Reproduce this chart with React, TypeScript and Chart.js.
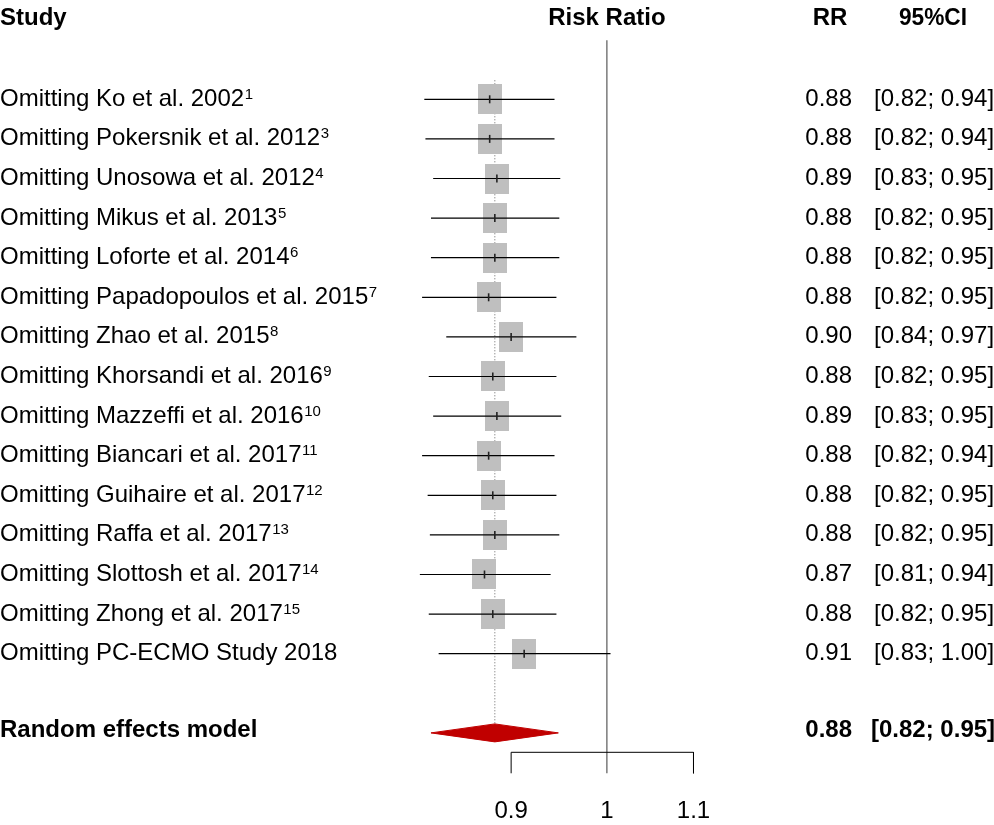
import React, { useEffect, useRef } from 'react';
import { Chart, registerables } from 'chart.js';

Chart.register(...registerables);

// ---------------- data ----------------
const studyLabels = [
  'Omitting Ko et al. 2002',
  'Omitting Pokersnik et al. 2012',
  'Omitting Unosowa et al. 2012',
  'Omitting Mikus et al. 2013',
  'Omitting Loforte et al. 2014',
  'Omitting Papadopoulos et al. 2015',
  'Omitting Zhao et al. 2015',
  'Omitting Khorsandi et al. 2016',
  'Omitting Mazzeffi et al. 2016',
  'Omitting Biancari et al. 2017',
  'Omitting Guihaire et al. 2017',
  'Omitting Raffa et al. 2017',
  'Omitting Slottosh et al. 2017',
  'Omitting Zhong et al. 2017',
  'Omitting PC-ECMO Study 2018',
];
const studyRefs = ['1', '3', '4', '5', '6', '7', '8', '9', '10', '11', '12', '13', '14', '15', ''];
const rrValues = [0.879, 0.879, 0.886, 0.884, 0.884, 0.878, 0.9, 0.882, 0.886, 0.878, 0.882, 0.884, 0.874, 0.882, 0.913];
const ciLower = [0.818, 0.819, 0.826, 0.824, 0.824, 0.816, 0.838, 0.822, 0.826, 0.816, 0.821, 0.823, 0.814, 0.822, 0.831];
const ciUpper = [0.944, 0.944, 0.95, 0.949, 0.949, 0.946, 0.967, 0.946, 0.951, 0.944, 0.946, 0.949, 0.94, 0.946, 1.004];

const pooledLabel = 'Random effects model';
const pooledRR = 0.884;
const pooledLower = 0.824;
const pooledUpper = 0.948;

const axisTicks = [0.9, 1, 1.1];
const headerLabels = ['Study', 'Risk Ratio', 'RR', '95%CI'];

// ---------------- layout / style constants ----------------
const W = 994;
const H = 825;
const FONT = '"Liberation Sans", Arial, Helvetica, sans-serif';

const pooledRow = studyLabels.length + 1;
const refTop = -1.49;
const dottedTop = -0.48;
const axisRow = 16.49;
const tickBottom = 17.02;
const diamondHalf = 0.227;

function segments(pairs: [number, number][][]) {
  const out: { x: number; y: number }[] = [];
  pairs.forEach((seg, i) => {
    if (i > 0) out.push({ x: NaN, y: NaN });
    seg.forEach(([x, y]) => out.push({ x, y }));
  });
  return out;
}

function makeBox() {
  const c = document.createElement('canvas');
  c.width = 24;
  c.height = 30;
  const g = c.getContext('2d')!;
  g.fillStyle = 'rgb(191,191,191)';
  g.fillRect(0, 0, 24, 30);
  return c;
}

const textPlugin = {
  id: 'forestText',
  afterDraw(chart: any) {
    const ctx = chart.ctx as CanvasRenderingContext2D;
    const xs = chart.scales.x;
    const ys = chart.scales.y;
    ctx.save();
    ctx.fillStyle = '#000';

    // headers
    ctx.font = `bold 24px ${FONT}`;
    ctx.textAlign = 'left';
    ctx.fillText(headerLabels[0], 0, 25);
    ctx.textAlign = 'center';
    ctx.fillText(headerLabels[1], xs.getPixelForValue(1), 25);
    ctx.fillText(headerLabels[2], 830, 25);
    ctx.fillText(headerLabels[3], 933, 25, 68);

    // study rows
    studyLabels.forEach((lab, i) => {
      const y = ys.getPixelForValue(i) + 6.5;
      ctx.font = `24px ${FONT}`;
      ctx.textAlign = 'left';
      ctx.fillText(lab, 0, y);
      const w = ctx.measureText(lab).width;
      if (studyRefs[i]) {
        ctx.font = `15px ${FONT}`;
        ctx.fillText(studyRefs[i], w + 0.5, y - 7);
      }
      ctx.font = `24px ${FONT}`;
      ctx.textAlign = 'right';
      ctx.fillText(rrValues[i].toFixed(2), 852, y);
      ctx.textAlign = 'left';
      ctx.fillText(`[${ciLower[i].toFixed(2)}; ${ciUpper[i].toFixed(2)}]`, 874, y);
    });

    // pooled row
    const py = ys.getPixelForValue(pooledRow) + 4;
    ctx.font = `bold 24px ${FONT}`;
    ctx.textAlign = 'left';
    ctx.fillText(pooledLabel, 0, py);
    ctx.textAlign = 'right';
    ctx.fillText(pooledRR.toFixed(2), 852, py);
    ctx.textAlign = 'left';
    ctx.fillText(`[${pooledLower.toFixed(2)}; ${pooledUpper.toFixed(2)}]`, 871, py);

    // axis tick labels
    ctx.font = `24px ${FONT}`;
    ctx.textAlign = 'center';
    axisTicks.forEach((t) => {
      ctx.fillText(String(t), xs.getPixelForValue(t), 818);
    });
    ctx.restore();
  },
};

export default function App() {
  const ref = useRef<HTMLCanvasElement | null>(null);

  useEffect(() => {
    if (!ref.current) return;
    const rows = studyLabels.map((_, i) => i);

    const ciData = segments(rows.map((i) => [[ciLower[i], i], [ciUpper[i], i]]));
    const boxData = rows.map((i) => ({ x: rrValues[i], y: i }));
    const estData = rows.map((i) => ({ x: rrValues[i], y: i }));
    const diamondData = [
      { x: pooledLower, y: pooledRow },
      { x: pooledRR, y: pooledRow - diamondHalf },
      { x: pooledUpper, y: pooledRow },
      { x: pooledRR, y: pooledRow + diamondHalf },
      { x: pooledLower, y: pooledRow },
    ];
    const refData = [
      { x: 1, y: refTop },
      { x: 1, y: tickBottom },
    ];
    const dottedData = [
      { x: pooledRR, y: dottedTop },
      { x: pooledRR, y: pooledRow - diamondHalf },
    ];
    const axisData = [
      { x: axisTicks[0], y: tickBottom },
      { x: axisTicks[0], y: axisRow },
      { x: axisTicks[axisTicks.length - 1], y: axisRow },
      { x: axisTicks[axisTicks.length - 1], y: tickBottom },
    ];

    const chart = new Chart(ref.current, {
      type: 'scatter',
      data: {
        datasets: [
          {
            data: dottedData,
            showLine: true,
            borderColor: '#666',
            borderWidth: 1,
            borderDash: [1, 2],
            pointRadius: 0,
            order: 7,
          } as any,
          {
            data: refData,
            showLine: true,
            borderColor: '#666',
            borderWidth: 1.3,
            pointRadius: 0,
            order: 6,
          },
          {
            data: boxData,
            showLine: false,
            pointStyle: makeBox(),
            pointRadius: 12,
            order: 5,
          } as any,
          {
            data: ciData,
            showLine: true,
            spanGaps: false,
            borderColor: '#000',
            borderWidth: 1.2,
            pointRadius: 0,
            order: 4,
          },
          {
            data: estData,
            showLine: false,
            pointStyle: 'line',
            rotation: 90,
            pointRadius: 4,
            borderWidth: 1.6,
            borderColor: '#222',
            order: 3,
          } as any,
          {
            data: diamondData,
            showLine: true,
            fill: 'shape',
            backgroundColor: 'rgb(192,0,0)',
            borderColor: 'rgb(192,0,0)',
            borderWidth: 1,
            pointRadius: 0,
            order: 2,
          } as any,
          {
            data: axisData,
            showLine: true,
            borderColor: '#000',
            borderWidth: 1,
            pointRadius: 0,
            order: 1,
          },
        ],
      },
      options: {
        animation: false,
        responsive: false,
        maintainAspectRatio: false,
        events: [],
        layout: { padding: 0, autoPadding: false },
        plugins: {
          legend: { display: false },
          tooltip: { enabled: false },
          title: { display: false },
        },
        scales: {
          x: {
            type: 'logarithmic',
            min: 0.51283,
            max: 1.5311,
            bounds: 'data',
            display: false,
          },
          y: {
            type: 'linear',
            min: -2.5076,
            max: 18.3258,
            reverse: true,
            bounds: 'data',
            display: false,
          },
        },
      } as any,
      plugins: [textPlugin],
    });
    return () => chart.destroy();
  }, []);

  return (
    <div style={{ position: 'absolute', left: 0, top: 0, width: W, height: H, background: '#fff' }}>
      <canvas ref={ref} width={W} height={H} style={{ display: 'block', width: W, height: H }} />
    </div>
  );
}
